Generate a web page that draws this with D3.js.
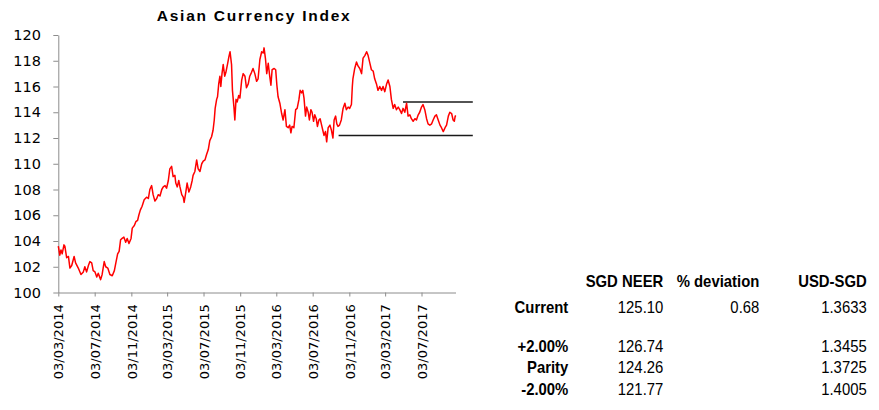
<!DOCTYPE html>
<html><head><meta charset="utf-8">
<script src="https://cdn.jsdelivr.net/npm/d3@7"></script>
<style>html,body{margin:0;padding:0;background:#fff;} svg{display:block}</style>
</head><body>
<svg id="c" width="879" height="410"></svg>
<script>
// ---------- DATA ----------
const title = "Asian Currency Index";

const dates = [
"2014-03-03","2014-03-08","2014-03-12","2014-03-16","2014-03-22","2014-03-25","2014-03-31","2014-04-06","2014-04-11","2014-04-17",
"2014-04-25","2014-04-30","2014-05-09","2014-05-18","2014-05-26","2014-05-31","2014-06-06","2014-06-12","2014-06-17","2014-06-23",
"2014-06-28","2014-07-04","2014-07-10","2014-07-15","2014-07-23","2014-07-28","2014-08-04","2014-08-09","2014-08-16","2014-08-23",
"2014-08-31","2014-09-07","2014-09-12","2014-09-18","2014-09-23","2014-09-28","2014-10-03","2014-10-09","2014-10-15","2014-10-20",
"2014-10-26","2014-11-02","2014-11-06","2014-11-13","2014-11-18","2014-11-24","2014-11-28","2014-12-03","2014-12-09","2014-12-16",
"2014-12-24","2014-12-30","2015-01-04","2015-01-10","2015-01-15","2015-01-21","2015-01-27","2015-02-01","2015-02-07","2015-02-13",
"2015-02-18","2015-02-24","2015-03-01","2015-03-07","2015-03-12","2015-03-18","2015-03-23","2015-03-29","2015-04-01","2015-04-06",
"2015-04-11","2015-04-15","2015-04-21","2015-04-26","2015-04-29","2015-05-04","2015-05-09","2015-05-15","2015-05-21","2015-05-26",
"2015-05-29","2015-06-04","2015-06-10","2015-06-15","2015-06-21","2015-06-27","2015-07-02","2015-07-08","2015-07-13","2015-07-19",
"2015-07-24","2015-07-30","2015-08-04","2015-08-08","2015-08-11","2015-08-16","2015-08-19","2015-08-23","2015-08-27","2015-08-30",
"2015-09-03","2015-09-07","2015-09-12","2015-09-16","2015-09-22","2015-09-26","2015-09-30","2015-10-05","2015-10-08","2015-10-13",
"2015-10-16","2015-10-20","2015-10-24","2015-10-29","2015-11-02","2015-11-08","2015-11-13","2015-11-19","2015-11-24","2015-11-30",
"2015-12-05","2015-12-11","2015-12-16","2015-12-22","2015-12-28","2016-01-02","2016-01-08","2016-01-14","2016-01-19","2016-01-22",
"2016-01-27","2016-01-31","2016-02-05","2016-02-10","2016-02-14","2016-02-18","2016-02-25","2016-03-01","2016-03-05","2016-03-09",
"2016-03-15","2016-03-21","2016-03-26","2016-04-01","2016-04-06","2016-04-12","2016-04-17","2016-04-21","2016-04-25","2016-05-01",
"2016-05-07","2016-05-12","2016-05-18","2016-05-22","2016-05-27","2016-05-31","2016-06-04","2016-06-09","2016-06-13","2016-06-18",
"2016-06-22","2016-06-27","2016-07-01","2016-07-06","2016-07-10","2016-07-15","2016-07-19","2016-07-24","2016-07-28","2016-08-02",
"2016-08-06","2016-08-10","2016-08-15","2016-08-19","2016-08-24","2016-08-30","2016-09-04","2016-09-09","2016-09-13","2016-09-18",
"2016-09-22","2016-09-26","2016-10-01","2016-10-07","2016-10-13","2016-10-19","2016-10-24","2016-10-30","2016-11-04","2016-11-10",
"2016-11-13","2016-11-15","2016-11-21","2016-11-27","2016-12-02","2016-12-08","2016-12-14","2016-12-19","2016-12-25","2016-12-31",
"2017-01-05","2017-01-11","2017-01-16","2017-01-22","2017-01-27","2017-02-02","2017-02-07","2017-02-13","2017-02-19","2017-02-24",
"2017-03-02","2017-03-08","2017-03-13","2017-03-19","2017-03-24","2017-03-30","2017-04-04","2017-04-10","2017-04-16","2017-04-21",
"2017-04-27","2017-05-02","2017-05-08","2017-05-14","2017-05-19","2017-05-25","2017-05-30","2017-06-05","2017-06-11","2017-06-16",
"2017-06-22","2017-06-27","2017-07-03","2017-07-08","2017-07-14","2017-07-20","2017-07-25","2017-07-31","2017-08-06","2017-08-11",
"2017-08-17","2017-08-22","2017-08-28","2017-09-03","2017-09-08","2017-09-14","2017-09-20","2017-09-25","2017-10-01","2017-10-06",
"2017-10-12","2017-10-17","2017-10-21","2017-10-24","2017-10-27"
];

const indexValues = [
103.6,102.9,103.3,103.0,103.7,103.6,102.7,102.8,101.9,102.1,
102.8,102.3,101.9,101.4,101.6,102.0,101.6,102.1,102.4,102.3,
101.7,101.6,101.2,101.5,101.0,101.4,102.4,102.0,101.9,101.4,
101.3,101.7,102.3,103.0,103.2,104.1,104.2,104.3,103.9,104.2,
103.8,104.2,105.0,105.2,105.5,105.6,106.0,106.4,106.7,107.2,
107.4,107.3,108.0,108.3,107.6,107.1,107.3,107.6,107.5,108.0,
108.2,108.3,108.1,108.7,109.6,109.8,109.0,109.1,108.5,108.2,
108.7,108.2,107.6,107.4,107.0,107.7,108.5,107.8,108.2,108.7,
109.1,109.4,110.3,109.6,109.4,110.0,110.2,110.3,110.7,111.1,
111.8,112.1,112.6,113.4,114.3,115.0,115.2,116.2,116.8,116.0,
117.0,117.7,116.8,117.1,117.8,118.3,118.7,117.7,115.7,114.4,
113.4,115.0,114.8,115.3,115.1,116.5,117.0,116.8,115.9,116.2,
116.8,117.1,117.4,117.0,116.4,116.6,118.1,118.7,118.6,119.0,
118.1,117.0,117.8,116.8,116.1,117.3,117.4,117.3,116.1,115.2,
114.7,113.9,113.4,114.2,112.9,112.8,113.0,112.4,112.9,112.8,
114.2,114.3,115.0,115.7,115.5,115.7,115.1,113.7,114.4,114.0,
113.4,114.2,114.0,113.3,113.8,113.5,112.9,113.4,113.5,113.0,
112.6,112.2,112.5,111.7,112.8,113.0,112.6,112.0,113.4,113.7,
113.1,112.9,113.0,113.4,114.3,114.7,114.2,114.4,114.3,114.6,
116.0,116.6,117.4,117.9,117.6,117.4,117.0,118.2,118.4,118.7,
118.4,117.8,117.3,117.2,116.6,116.2,115.7,116.0,115.7,116.0,
115.6,116.2,116.5,116.0,115.0,114.3,114.6,114.2,114.4,114.2,
113.9,114.3,114.0,114.7,113.7,113.8,113.5,113.3,113.5,113.4,
113.8,114.0,114.4,114.6,114.2,113.5,113.1,113.0,113.1,113.4,
113.7,113.8,113.4,113.0,112.8,112.5,112.8,113.0,113.7,114.0,
113.9,113.4,113.3,113.7,113.7
];

const xTickLabels = ["03/03/2014","03/07/2014","03/11/2014","03/03/2015","03/07/2015","03/11/2015",
                     "03/03/2016","03/07/2016","03/11/2016","03/03/2017","03/07/2017"];
const xDomainDates = ["2014-03-03","2017-10-25"];
const yTicks = [100,102,104,106,108,110,112,114,116,118,120];
const yDomain = [100,120];

// horizontal band lines (level, start, end)
const bandLevels = [114.8, 112.2];
const bandStarts = ["2017-05-02","2016-09-28"];
const bandEnds   = ["2017-12-22","2017-12-22"];

// table
const tableHeaders = ["", "SGD NEER", "% deviation", "USD-SGD"];
const tableRowLabels = ["Current", "+2.00%", "Parity", "-2.00%"];
const tableNeer = ["125.10", "126.74", "124.26", "121.77"];
const tableDeviation = ["0.68", "", "", ""];
const tableUsdSgd = ["1.3633", "1.3455", "1.3725", "1.4005"];

// ---------- DRAW ----------
const svg = d3.select("#c");
const parseISO = d3.utcParse("%Y-%m-%d");
const parseTick = d3.utcParse("%d/%m/%Y");
const fmtTick = d3.utcFormat("%d/%m/%Y");

const x = d3.scaleUtc().domain(xDomainDates.map(parseISO)).range([58.3, 455.5]);
const y = d3.scaleLinear().domain(yDomain).range([292.5, 35]);

const series = dates.map((d, i) => ({date: parseISO(d), value: indexValues[i]}));

// title
svg.append("text")
  .attr("x", 156.7).attr("y", 21)
  .attr("textLength", 193).attr("lengthAdjust", "spacing")
  .style("font-family", "'Liberation Sans', Arial, sans-serif")
  .style("font-weight", "bold").style("font-size", "15.5px")
  .text(title);

const axisColor = "#8c8c8c";

// y axis
const yAxis = svg.append("g").attr("transform", "translate(58.3,0)")
  .call(d3.axisLeft(y).tickValues(yTicks).tickSize(5).tickSizeOuter(0).tickPadding(12.4).tickFormat(d3.format("d")));
yAxis.select(".domain").attr("stroke", axisColor);
yAxis.selectAll(".tick line").attr("stroke", axisColor);
yAxis.selectAll("text").style("font-family", "'DejaVu Sans', Verdana, sans-serif").style("font-size", "14.5px").attr("fill", "#000");

// x axis
const xAxis = svg.append("g").attr("transform", "translate(0,292.5)")
  .call(d3.axisBottom(x).tickValues(xTickLabels.map(parseTick)).tickSize(4).tickSizeOuter(0).tickFormat(fmtTick));
xAxis.select(".domain").attr("stroke", axisColor);
xAxis.selectAll(".tick line").attr("stroke", axisColor);
xAxis.selectAll("text")
  .attr("transform", "rotate(-90)")
  .attr("x", -11.8).attr("y", 0).attr("dy", "0.36em")
  .attr("text-anchor", "end")
  .style("font-family", "'DejaVu Sans', Verdana, sans-serif").style("font-size", "13px").attr("fill", "#000");

// band lines
svg.append("g").selectAll("line").data(bandLevels).join("line")
  .attr("x1", (d, i) => x(parseISO(bandStarts[i])))
  .attr("x2", (d, i) => x(parseISO(bandEnds[i])))
  .attr("y1", d => y(d)).attr("y2", d => y(d))
  .attr("stroke", "#1a1a1a").attr("stroke-width", 1.4);

// index line
svg.append("path").datum(series)
  .attr("fill", "none").attr("stroke", "#ff0000").attr("stroke-width", 1.5)
  .attr("stroke-linejoin", "round")
  .attr("d", d3.line().x(d => x(d.date)).y(d => y(d.value)));

// table (slightly condensed Arial-like text)
const tbl = svg.append("g")
  .style("font-family", "'Liberation Sans', Arial, sans-serif").style("font-size", "16px");
const colRight = [568.3, 663.3, 759.3, 866.7];
const rowY = [313.3, 351.7, 373.3, 395];
const sx = 0.93;
tbl.selectAll("text.h").data(tableHeaders).join("text").attr("class", "h")
  .attr("transform", (d, i) => `translate(${colRight[i]},287.3) scale(${sx},1)`)
  .attr("text-anchor", "end").style("font-weight", "bold").text(d => d);
const cols = [tableRowLabels, tableNeer, tableDeviation, tableUsdSgd];
cols.forEach((col, ci) => {
  tbl.append("g").selectAll("text").data(col).join("text")
    .attr("transform", (d, ri) => `translate(${colRight[ci]},${rowY[ri]}) scale(${sx},1)`)
    .attr("text-anchor", "end")
    .style("font-weight", ci === 0 ? "bold" : "normal")
    .text(d => d);
});
</script></body></html>
